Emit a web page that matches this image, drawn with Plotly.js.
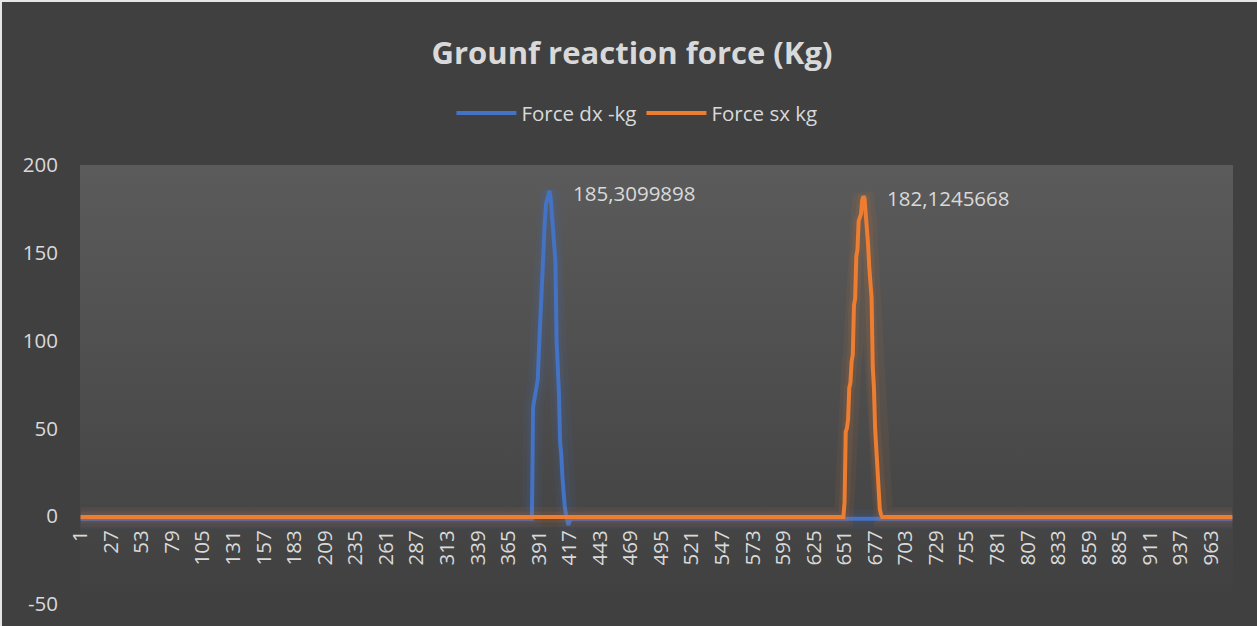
<!DOCTYPE html>
<html>
<head>
<meta charset="utf-8">
<script src="https://cdn.plot.ly/plotly-3.0.1.min.js"></script>
<style>
  html, body { margin: 0; padding: 0; background: #e6e6e6; }
  #chart { position: absolute; left: 2px; top: 2px; width: 1255px; height: 624px; }
</style>
</head>
<body>
<div id="chart"></div>
<script>
// ---- data ----
const sampleCount = 981;                 // number of samples on the category axis
const xTickLabels = [1,27,53,79,105,131,157,183,209,235,261,287,313,339,365,391,417,443,469,495,
                     521,547,573,599,625,651,677,703,729,755,781,807,833,859,885,911,937,963];
const yTickValues = [-50, 0, 50, 100, 150, 200];
const yTickLabels = ['-50', '0', '50', '100', '150', '200'];
const seriesNames = ['Force dx -kg', 'Force sx kg'];

// Force dx: flat baseline with one pulse starting at sample 386
const dxBaseline = -1.5;
const dxPulseStart = 386;
const dxPulse = [62, 65, 70, 74, 78, 95, 112, 125, 140, 155, 168, 178, 181, 184, 185.3099898,
                 181, 172, 165, 155, 145, 100, 88, 70, 42, 35, 22, 11, 5, 1, -2, -5, -3];

// Force sx: flat baseline with one pulse starting at sample 651
const sxBaseline = -0.5;
const sxPulseStart = 651;
const sxPulse = [8, 48, 50, 55, 73, 76, 88, 92, 120, 124, 148, 152, 168, 170, 172, 180, 182.1245668,
                 181, 172, 170, 155, 142, 128, 124, 85, 73, 50, 38, 22, 16, 4, 1];

const peakLabels = ['185,3099898', '182,1245668'];

// ---- build series ----
function buildSeries(baseline, start, pulse) {
  const x = [], y = [];
  for (let i = 1; i <= sampleCount; i++) {
    x.push(i);
    const k = i - start;
    y.push(k >= 0 && k < pulse.length ? pulse[k] : baseline);
  }
  return {x, y};
}
const dx = buildSeries(dxBaseline, dxPulseStart, dxPulse);
const sx = buildSeries(sxBaseline, sxPulseStart, sxPulse);

function peakOf(s) {
  let m = 0;
  for (let i = 1; i < s.y.length; i++) if (s.y[i] > s.y[m]) m = i;
  return {x: s.x[m], y: s.y[m]};
}
const dxPeak = peakOf(dx), sxPeak = peakOf(sx);

const blue = '#4472C4', orange = '#ED7D31';
const textCol = '#D9D9D9';
const font = 'Open Sans, Segoe UI, DejaVu Sans, sans-serif';
const fs = 20.5;

const glow = (s, rgba, w) => ({x: s.x, y: s.y, type: 'scatter', mode: 'lines',
  line: {color: rgba, width: w}, hoverinfo: 'skip', showlegend: false});

const traces = [
  glow(dx, 'rgba(68,114,196,0.07)', 20),
  glow(dx, 'rgba(68,114,196,0.10)', 11),
  {x: dx.x, y: dx.y, type: 'scatter', mode: 'lines', name: seriesNames[0],
   line: {color: blue, width: 4}},
  glow(sx, 'rgba(237,125,49,0.07)', 20),
  glow(sx, 'rgba(237,125,49,0.10)', 11),
  {x: sx.x, y: sx.y, type: 'scatter', mode: 'lines', name: seriesNames[1],
   line: {color: orange, width: 4}}
];

const gradSvg = '<svg xmlns="http://www.w3.org/2000/svg" width="100" height="100" preserveAspectRatio="none">' +
  '<defs><linearGradient id="g" x1="0" y1="0" x2="0" y2="1">' +
  '<stop offset="0" stop-color="#5b5b5b"/><stop offset="1" stop-color="#404040"/>' +
  '</linearGradient></defs><rect width="100" height="100" fill="url(#g)"/></svg>';

const layout = {
  width: 1255, height: 624,
  margin: {l: 78, r: 24, t: 163, b: 22},
  paper_bgcolor: '#404040',
  plot_bgcolor: 'rgba(0,0,0,0)',
  font: {family: font, color: textCol, size: fs},
  title: {text: '<b>Grounf reaction force (Kg)</b>', font: {family: font, size: 31, color: textCol},
          x: 0.502, xref: 'container', xanchor: 'center', y: 0.918, yref: 'container', yanchor: 'middle'},
  showlegend: true,
  legend: {orientation: 'h', x: 0.483, xanchor: 'center', y: 1.118, yanchor: 'middle',
           font: {family: font, size: fs, color: textCol}, bgcolor: 'rgba(0,0,0,0)',
           traceorder: 'normal', itemwidth: 60},
  xaxis: {type: 'linear', range: [0.5, sampleCount + 0.5], tickmode: 'array',
          tickvals: xTickLabels, ticktext: xTickLabels.map(String), tickangle: -90,
          tickfont: {family: font, size: fs, color: textCol},
          anchor: 'free', position: 0.2, showgrid: false, zeroline: false, showline: false,
          ticks: '', ticklabelstandoff: 9},
  yaxis: {range: [-50, 200], tickmode: 'array', tickvals: yTickValues, ticktext: yTickLabels,
          tickfont: {family: font, size: fs, color: textCol},
          showgrid: false, zeroline: false, showline: false, ticks: '', ticklabelstandoff: 21},
  images: [{source: 'data:image/svg+xml;charset=utf-8,' + encodeURIComponent(gradSvg),
            xref: 'paper', yref: 'paper', x: 0, y: 1, sizex: 1, sizey: 1,
            sizing: 'stretch', xanchor: 'left', yanchor: 'top', layer: 'below'}],
  annotations: [
    {x: dxPeak.x, y: dxPeak.y, text: peakLabels[0], showarrow: false, xanchor: 'left', yanchor: 'middle',
     xshift: 21, yshift: -2, font: {family: font, size: fs, color: textCol}},
    {x: sxPeak.x, y: sxPeak.y, text: peakLabels[1], showarrow: false, xanchor: 'left', yanchor: 'middle',
     xshift: 22, yshift: -2, font: {family: font, size: fs, color: textCol}}
  ]
};

Plotly.newPlot('chart', traces, layout, {displayModeBar: false, staticPlot: true});
</script>
</body>
</html>
